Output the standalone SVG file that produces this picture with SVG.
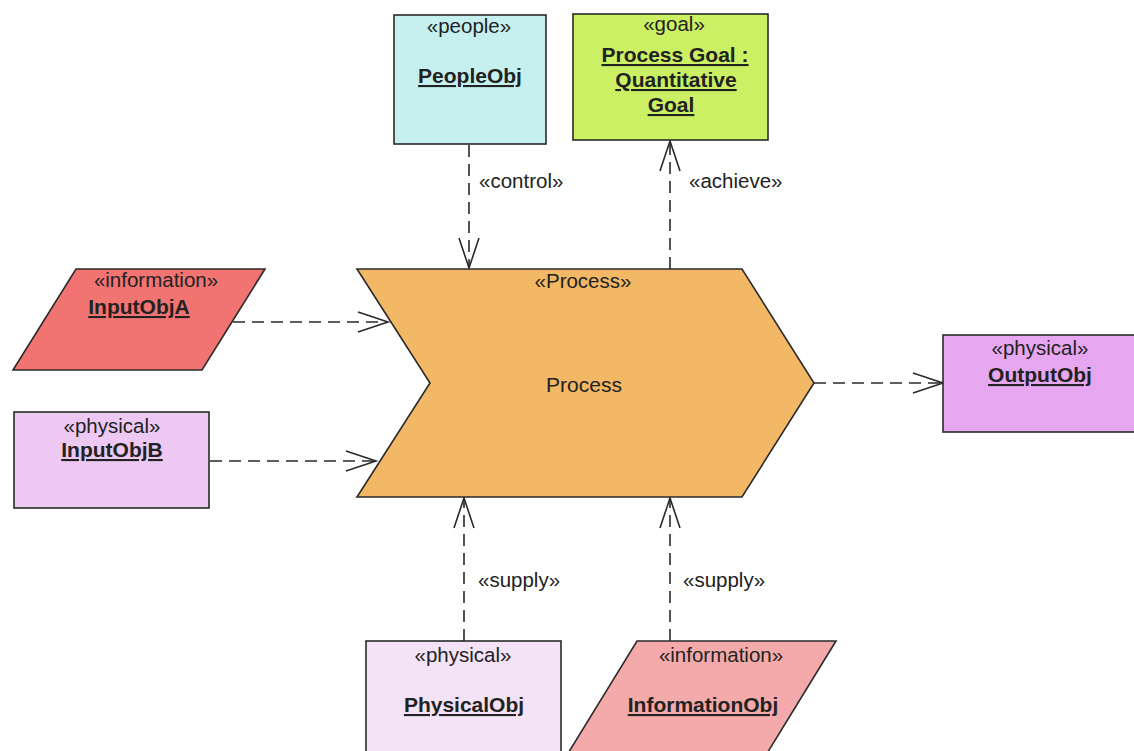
<svg xmlns="http://www.w3.org/2000/svg" width="1134" height="751" viewBox="0 0 1134 751">
  <style>
    .shape { stroke: #2a2a2a; stroke-width: 1.6; }
    .st { font-family: "Liberation Sans", Arial, sans-serif; font-size: 20.5px; fill: #222; text-anchor: middle; }
    .nm { font-family: "Liberation Sans", Arial, sans-serif; font-size: 21px; font-weight: bold; fill: #222; text-anchor: middle; text-decoration: underline; }
    .lbl { font-family: "Liberation Sans", Arial, sans-serif; font-size: 20.5px; fill: #222; }
    .dep { stroke: #2a2a2a; stroke-width: 1.6; fill: none; stroke-dasharray: 12 7; }
    .head { stroke: #2a2a2a; stroke-width: 1.6; fill: none; }
  </style>
  <rect width="1134" height="751" fill="#ffffff"/>

  <!-- dependency connectors with open arrowheads -->
  <g id="connectors">
    <!-- control: PeopleObj -> Process -->
    <line class="dep" x1="469" y1="145" x2="469" y2="268"/>
    <polyline class="head" points="459,238 469,268 479,238"/>
    <text class="lbl" x="479" y="188">«control»</text>

    <!-- achieve: Process -> Goal -->
    <line class="dep" x1="670" y1="269" x2="670" y2="141"/>
    <polyline class="head" points="660,171 670,141 680,171"/>
    <text class="lbl" x="689" y="188">«achieve»</text>

    <!-- InputObjA -> Process -->
    <line class="dep" x1="233" y1="322" x2="388" y2="322"/>
    <polyline class="head" points="358,312 388,322 358,332"/>

    <!-- InputObjB -> Process -->
    <line class="dep" x1="210" y1="461" x2="376" y2="461"/>
    <polyline class="head" points="346,451 376,461 346,471"/>

    <!-- Process -> OutputObj -->
    <line class="dep" x1="814" y1="383" x2="943" y2="383"/>
    <polyline class="head" points="913,373 943,383 913,393"/>

    <!-- supply: PhysicalObj -> Process -->
    <line class="dep" x1="464" y1="641" x2="464" y2="498"/>
    <polyline class="head" points="454,528 464,498 474,528"/>
    <text class="lbl" x="478" y="587">«supply»</text>

    <!-- supply: InformationObj -> Process -->
    <line class="dep" x1="670" y1="641" x2="670" y2="498"/>
    <polyline class="head" points="660,528 670,498 680,528"/>
    <text class="lbl" x="683" y="587">«supply»</text>
  </g>

  <g id="people-obj">
    <rect class="shape" x="394" y="15" width="152" height="129" fill="#c6f0f0"/>
    <text class="st" x="469" y="33">«people»</text>
    <text class="nm" x="470" y="83">PeopleObj</text>
  </g>

  <g id="process-goal">
    <rect class="shape" x="573" y="14" width="195" height="126" fill="#ccf064"/>
    <text class="st" x="674" y="31">«goal»</text>
    <text class="nm" x="675" y="62">Process Goal :</text>
    <text class="nm" x="676" y="87">Quantitative</text>
    <text class="nm" x="671" y="112">Goal</text>
  </g>

  <g id="process">
    <polygon class="shape" points="357,269 742,269 814,383 742,497 357,497 430,383" fill="#f2b866"/>
    <text class="st" x="583" y="288">«Process»</text>
    <text class="st" x="584" y="392" style="font-size:21px">Process</text>
  </g>

  <g id="input-obj-a">
    <polygon class="shape" points="76,269 265,269 202,370 13,370" fill="#f27472"/>
    <text class="st" x="156" y="287">«information»</text>
    <text class="nm" x="139" y="314">InputObjA</text>
  </g>

  <g id="input-obj-b">
    <rect class="shape" x="14" y="412" width="195" height="96" fill="#ecc8f2"/>
    <text class="st" x="112" y="433">«physical»</text>
    <text class="nm" x="112" y="457">InputObjB</text>
  </g>

  <g id="output-obj">
    <rect class="shape" x="943" y="335" width="195" height="97" fill="#e6a6f0"/>
    <text class="st" x="1040" y="355">«physical»</text>
    <text class="nm" x="1040" y="382">OutputObj</text>
  </g>

  <g id="physical-obj">
    <rect class="shape" x="366" y="641" width="195" height="130" fill="#f4e2f6"/>
    <text class="st" x="463" y="662">«physical»</text>
    <text class="nm" x="464" y="712">PhysicalObj</text>
  </g>

  <g id="information-obj">
    <polygon class="shape" points="637,641 836,641 766,755 567,755" fill="#f4aaaa"/>
    <text class="st" x="721" y="662">«information»</text>
    <text class="nm" x="703" y="712">InformationObj</text>
  </g>
</svg>
